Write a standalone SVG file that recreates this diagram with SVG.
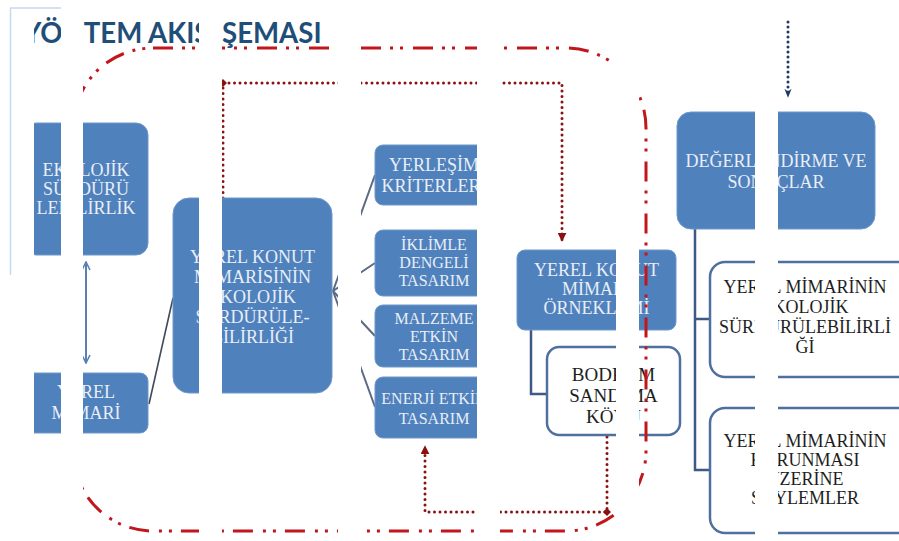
<svg xmlns="http://www.w3.org/2000/svg" width="899" height="541" viewBox="0 0 899 541">
<style>
.blue{fill:#4f81bd;stroke:#6f97c9;stroke-width:1}
.white{fill:#ffffff;stroke:#4f6f9f;stroke-width:2.5}
.bt{font-family:"Liberation Serif","Times New Roman",serif;fill:#e9eef6;text-anchor:middle}
.dt{font-family:"Liberation Serif","Times New Roman",serif;fill:#1e1e1e;text-anchor:middle}
.f18{font-size:18px}
.f16{font-size:16px}
.f19{font-size:19px}
.con{fill:none;stroke:#3c5a85;stroke-width:2.5}
.fan{fill:none;stroke:#5a6a85;stroke-width:2}
.rdot{fill:none;stroke:#8b1010;stroke-width:3;stroke-dasharray:0 5.5;stroke-linecap:round}
.ndot{fill:none;stroke:#1f3864;stroke-width:3;stroke-dasharray:0 5;stroke-linecap:round}
.gap{fill:#ffffff}
</style>
<defs>
<marker id="open" viewBox="0 0 10 10" refX="9" refY="5" markerWidth="10" markerHeight="10" markerUnits="userSpaceOnUse" orient="auto-start-reverse">
<path d="M1,1 L9,5 L1,9" fill="none" stroke="#5b7fb0" stroke-width="1.6"/>
</marker>
<marker id="redarr" viewBox="0 0 10 10" refX="8" refY="5" markerWidth="9" markerHeight="9" markerUnits="userSpaceOnUse" orient="auto">
<path d="M0,0 L10,5 L0,10 Z" fill="#8b1010"/>
</marker>
<marker id="navyarr" viewBox="0 0 10 10" refX="8" refY="5" markerWidth="9" markerHeight="9" markerUnits="userSpaceOnUse" orient="auto">
<path d="M0,1 L10,5 L0,9 L3,5 Z" fill="#1f3864"/>
</marker>
</defs>
<rect width="899" height="541" fill="#ffffff"/>

<text x="23.5" y="43" font-family="Lato,'Liberation Sans',sans-serif" font-weight="bold" font-size="27.6" fill="#1f4e79"><tspan x="23.5">YÖNTEM AKIŞ</tspan><tspan x="222">ŞEMASI</tspan></text>

<g id="connectors">
<line x1="86" y1="262" x2="86" y2="363" stroke="#5b7fb0" stroke-width="2" marker-start="url(#open)" marker-end="url(#open)"/>
<line x1="149" y1="404" x2="173" y2="298" stroke="#3f4a5c" stroke-width="1.6"/>
<path class="fan" d="M333,291 L375,175"/>
<path class="fan" d="M333,291 L375,263"/>
<path class="fan" d="M333,291 L375,336"/>
<path class="fan" d="M333,291 L375,407"/>
<path class="con" d="M531,330 V394 H547"/>
<path class="con" d="M695,229 V470 H710 M695,319 H710"/>
<path class="rdot" d="M223,198 V83 H562 V240" marker-end="url(#redarr)"/>
<path d="M223,79 L227,83 L223,87 L219,83 Z" fill="#8b1010"/>
<path class="rdot" d="M607,437 V512 H425 V447" marker-end="url(#redarr)"/>
<path d="M607,508 L611,512 L607,516 L603,512 Z" fill="#8b1010"/>
<path class="ndot" d="M788,22 V96" marker-end="url(#navyarr)"/>
</g>

<g id="ekolojik">
<rect class="blue" x="24" y="123" width="124" height="132" rx="12"/>
<text class="bt f18" x="86" y="176">EKOLOJİK</text>
<text class="bt f18" x="86" y="195">SÜRDÜRÜ</text>
<text class="bt f18" x="86" y="214">LEBİLİRLİK</text>
</g>

<g id="yerel-mimari">
<rect class="blue" x="24" y="373" width="124" height="60" rx="8"/>
<text class="bt f18" x="86" y="398">YEREL</text>
<text class="bt f18" x="86" y="419">MİMARİ</text>
</g>

<g id="yerel-konut-ekolojik">
<rect class="blue" x="173" y="198" width="159" height="195" rx="16"/>
<text class="bt f18" x="252.5" y="263">YEREL KONUT</text>
<text class="bt f18" x="252.5" y="283">MİMARİSİNİN</text>
<text class="bt f18" x="252.5" y="303">EKOLOJİK</text>
<text class="bt f18" x="252.5" y="323">SÜRDÜRÜLE-</text>
<text class="bt f18" x="252.5" y="343">BİLİRLİĞİ</text>
</g>

<g id="yerlesim">
<rect class="blue" x="375" y="145" width="118" height="60" rx="8"/>
<text class="bt f18" x="434" y="171">YERLEŞİM</text>
<text class="bt f18" x="434" y="192">KRİTERLERİ</text>
</g>

<g id="iklimle">
<rect class="blue" x="375" y="230" width="118" height="66" rx="8"/>
<text class="bt f16" x="434" y="250">İKLİMLE</text>
<text class="bt f16" x="434" y="268">DENGELİ</text>
<text class="bt f16" x="434" y="286">TASARIM</text>
</g>

<g id="malzeme">
<rect class="blue" x="375" y="305" width="118" height="62" rx="8"/>
<text class="bt f16" x="434" y="324">MALZEME</text>
<text class="bt f16" x="434" y="342">ETKİN</text>
<text class="bt f16" x="434" y="360">TASARIM</text>
</g>

<g id="enerji">
<rect class="blue" x="375" y="377" width="118" height="61" rx="8"/>
<text class="bt f16" x="434" y="404">ENERJİ ETKİN</text>
<text class="bt f16" x="434" y="424">TASARIM</text>
</g>

<g id="orneklemi">
<rect class="blue" x="517" y="250" width="159" height="80" rx="8"/>
<text class="bt f18" x="596.5" y="276">YEREL KONUT</text>
<text class="bt f18" x="596.5" y="295">MİMARİ</text>
<text class="bt f18" x="596.5" y="314">ÖRNEKLEMİ</text>
</g>

<g id="bodrum">
<rect class="white" x="547" y="347" width="133" height="88" rx="12"/>
<text class="dt f19" x="613.5" y="381">BODRUM</text>
<text class="dt f19" x="613.5" y="402">SANDIMA</text>
<text class="dt f19" x="613.5" y="423">KÖYÜ</text>
</g>

<g id="degerlendirme">
<rect class="blue" x="677" y="112" width="198" height="117" rx="14"/>
<text class="bt f18" x="776" y="167">DEĞERLENDİRME VE</text>
<text class="bt f18" x="776" y="188">SONUÇLAR</text>
</g>

<g id="sonuc-1">
<rect class="white" x="710" y="262" width="205" height="115" rx="15"/>
<text class="dt f18" x="805" y="293">YEREL MİMARİNİN</text>
<text class="dt f18" x="805" y="313">EKOLOJİK</text>
<text class="dt f18" x="805" y="333">SÜRDÜRÜLEBİLİRLİ</text>
<text class="dt f18" x="805" y="353">Ğİ</text>
</g>

<g id="sonuc-2">
<rect class="white" x="710" y="408" width="205" height="125" rx="15"/>
<text class="dt f18" x="805" y="447">YEREL MİMARİNİN</text>
<text class="dt f18" x="805" y="466">KORUNMASI</text>
<text class="dt f18" x="805" y="485">ÜZERİNE</text>
<text class="dt f18" x="805" y="504">SÖYLEMLER</text>
</g>

<g id="frame">
<rect x="73" y="48" width="573" height="483" rx="80" fill="none" stroke="#c0161c" stroke-width="3" stroke-dasharray="20 9 3 7 3 10"/>
</g>

<g id="strip-gaps">
<rect class="gap" x="0" y="0" width="34" height="541"/>
<rect class="gap" x="61" y="0" width="22" height="541"/>
<rect class="gap" x="199" y="0" width="23" height="541"/>
<rect class="gap" x="338" y="0" width="23" height="541"/>
<rect class="gap" x="477" y="0" width="23" height="541"/>
<rect class="gap" x="616" y="0" width="23" height="541"/>
<rect class="gap" x="755" y="0" width="23" height="541"/>
</g>
<path d="M10,8 H61 M10.5,8 V275" fill="none" stroke="#c6d9f0" stroke-width="1.5"/>
</svg>
